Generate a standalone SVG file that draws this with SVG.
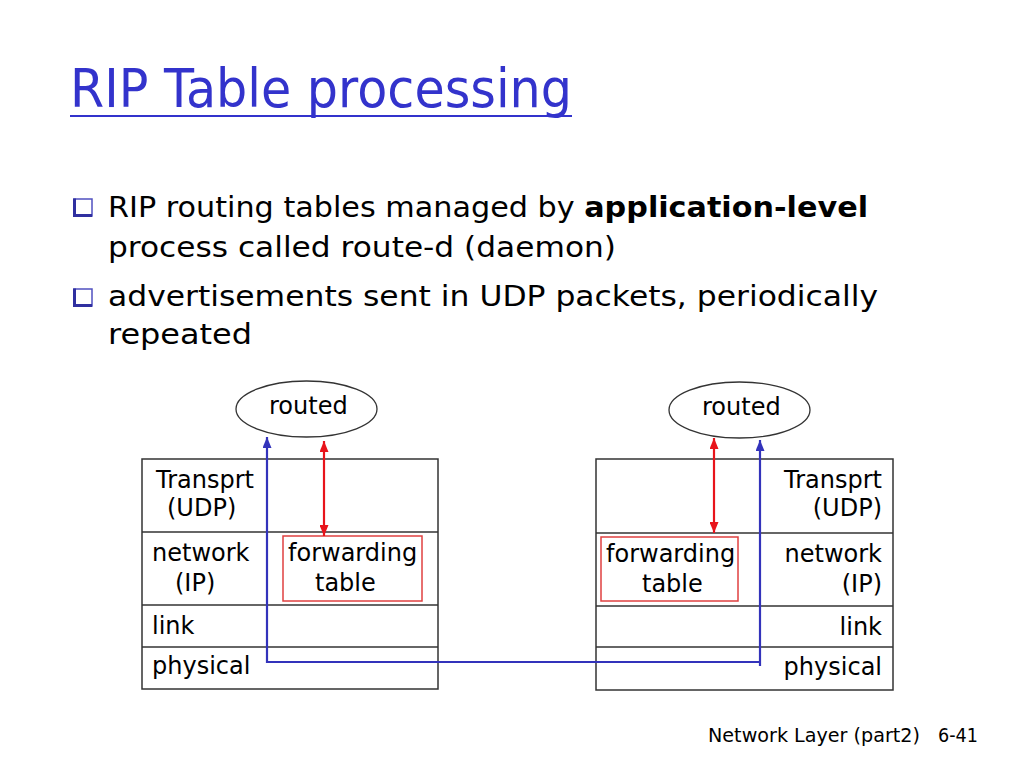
<svg xmlns="http://www.w3.org/2000/svg" width="1024" height="768" viewBox="0 0 1024 768">
<style>
  text { font-family: "DejaVu Sans", "Liberation Sans", sans-serif; fill: #000; }
  .title { font-size: 54px; fill: #3333cc; }
  .bul { font-size: 28px; }
  .lbl { font-size: 24px; }
  .foot { font-size: 19px; }
  .stack { fill: #fff; stroke: #333; stroke-width: 1.5; }
  .div { stroke: #333; stroke-width: 1.5; }
  .ft { fill: none; stroke: #e04040; stroke-width: 1.5; }
  .proc { fill: #fff; stroke: #333; stroke-width: 1.3; }
  .blue { fill: none; stroke: #3333bb; stroke-width: 2.2; }
  .red { fill: none; stroke: #e8141b; stroke-width: 2.2; }
  .bsq { fill: #fff; stroke: #5050c0; stroke-width: 1.5; }
  .bsh { fill: none; stroke: #3030a0; stroke-width: 3; }
</style>
<defs>
  <marker id="ab" markerUnits="userSpaceOnUse" markerWidth="11" markerHeight="9" refX="11" refY="4.5" orient="auto-start-reverse">
    <path d="M0,0 L11,4.5 L0,9 z" fill="#3333bb"/>
  </marker>
  <marker id="ar" markerUnits="userSpaceOnUse" markerWidth="11" markerHeight="9" refX="11" refY="4.5" orient="auto-start-reverse">
    <path d="M0,0 L11,4.5 L0,9 z" fill="#e8141b"/>
  </marker>
</defs>
<rect width="1024" height="768" fill="#fff"/>

<g id="title">
  <text class="title" x="70" y="107" textLength="502" lengthAdjust="spacingAndGlyphs">RIP Table processing</text>
  <line x1="70" y1="116" x2="572" y2="116" stroke="#3333cc" stroke-width="2"/>
</g>

<g id="bullets">
  <rect class="bsq" x="74" y="199" width="18" height="17"/>
  <path class="bsh" d="M74.5,198.5 V215.5 H92"/>
  <text class="bul" x="108" y="217" textLength="760" lengthAdjust="spacingAndGlyphs">RIP routing tables managed by <tspan font-weight="bold">application-level</tspan></text>
  <text class="bul" x="108" y="257" textLength="508" lengthAdjust="spacingAndGlyphs">process called route-d (daemon)</text>
  <rect class="bsq" x="74" y="289" width="18" height="17"/>
  <path class="bsh" d="M74.5,288.5 V305.5 H92"/>
  <text class="bul" x="108" y="306" textLength="770" lengthAdjust="spacingAndGlyphs">advertisements sent in UDP packets, periodically</text>
  <text class="bul" x="108" y="344" textLength="144" lengthAdjust="spacingAndGlyphs">repeated</text>
</g>

<g id="left-routed">
  <ellipse class="proc" cx="306.5" cy="409" rx="70.5" ry="28"/>
  <text class="lbl" x="269" y="414">routed</text>
</g>

<g id="left-stack">
  <rect class="stack" x="142" y="459" width="296" height="230"/>
  <line class="div" x1="142" y1="532" x2="438" y2="532"/>
  <line class="div" x1="142" y1="605" x2="438" y2="605"/>
  <line class="div" x1="142" y1="647" x2="438" y2="647"/>
  <text class="lbl" x="156" y="488">Transprt</text>
  <text class="lbl" x="167" y="516">(UDP)</text>
  <text class="lbl" x="152" y="561">network</text>
  <text class="lbl" x="175" y="591">(IP)</text>
  <text class="lbl" x="152" y="634">link</text>
  <text class="lbl" x="152" y="674">physical</text>
</g>

<g id="left-fwd">
  <rect class="ft" x="283" y="536" width="139" height="65"/>
  <text class="lbl" x="288" y="561">forwarding</text>
  <text class="lbl" x="315" y="591">table</text>
</g>

<g id="right-routed">
  <ellipse class="proc" cx="739.5" cy="410" rx="70.5" ry="28"/>
  <text class="lbl" x="702" y="415">routed</text>
</g>

<g id="right-stack">
  <rect class="stack" x="596" y="459" width="297" height="231"/>
  <line class="div" x1="596" y1="533" x2="893" y2="533"/>
  <line class="div" x1="596" y1="606" x2="893" y2="606"/>
  <line class="div" x1="596" y1="647" x2="893" y2="647"/>
  <text class="lbl" x="882" y="488" text-anchor="end">Transprt</text>
  <text class="lbl" x="882" y="516" text-anchor="end">(UDP)</text>
  <text class="lbl" x="882" y="562" text-anchor="end">network</text>
  <text class="lbl" x="882" y="592" text-anchor="end">(IP)</text>
  <text class="lbl" x="882" y="635" text-anchor="end">link</text>
  <text class="lbl" x="882" y="675" text-anchor="end">physical</text>
</g>

<g id="right-fwd">
  <rect class="ft" x="601" y="537" width="137" height="64"/>
  <text class="lbl" x="606" y="562">forwarding</text>
  <text class="lbl" x="642" y="592">table</text>
</g>

<g id="connectors">
  <path class="blue" d="M760,662 H267 V437" marker-end="url(#ab)"/>
  <path class="blue" d="M760,666 V440" marker-end="url(#ab)"/>
  <path class="red" d="M324,441 V536" marker-start="url(#ar)" marker-end="url(#ar)"/>
  <path class="red" d="M714,438 V533" marker-start="url(#ar)" marker-end="url(#ar)"/>
</g>

<g id="footer">
  <text class="foot" x="708" y="742" textLength="212" lengthAdjust="spacingAndGlyphs">Network Layer (part2)</text>
  <text class="foot" x="938" y="742" textLength="40" lengthAdjust="spacingAndGlyphs">6-41</text>
</g>
</svg>
